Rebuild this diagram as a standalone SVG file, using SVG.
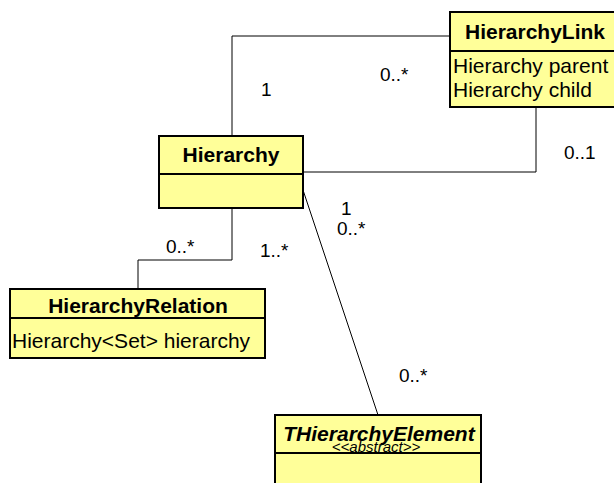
<svg xmlns="http://www.w3.org/2000/svg" width="614" height="483" viewBox="0 0 614 483">
  <style>
    .box { fill: #ffff99; stroke: #000; stroke-width: 2; }
    .sep { stroke: #000; stroke-width: 2; }
    .edge { fill: none; stroke: #000; stroke-width: 1; }
    .title { font-family: "Liberation Sans", Arial, sans-serif; font-size: 21px; font-weight: bold; text-anchor: middle; }
    .attr { font-family: "Liberation Sans", Arial, sans-serif; font-size: 21px; }
    .mult { font-family: "Liberation Sans", Arial, sans-serif; font-size: 19px; }
    .stereo { font-family: "Liberation Sans", Arial, sans-serif; font-size: 15px; font-style: italic; text-anchor: middle; }
  </style>
  <rect width="614" height="483" fill="#fff"/>

  <g id="connectors">
    <polyline class="edge" points="232,136 232,36 450,36"/>
    <polyline class="edge" points="303,172 536,172 536,107"/>
    <polyline class="edge" points="232,208 232,260 138,260 138,289"/>
    <line class="edge" x1="303" y1="190" x2="378" y2="415"/>
    <text class="mult" x="261" y="96">1</text>
    <text class="mult" x="380" y="81">0..*</text>
    <text class="mult" x="564" y="159">0..1</text>
    <text class="mult" x="341" y="215">1</text>
    <text class="mult" x="337" y="235">0..*</text>
    <text class="mult" x="166" y="253">0..*</text>
    <text class="mult" x="260" y="257">1..*</text>
    <text class="mult" x="399" y="382">0..*</text>
  </g>

  <g id="HierarchyLink">
    <rect class="box" x="450" y="12" width="172" height="95"/>
    <line class="sep" x1="450" y1="51" x2="622" y2="51"/>
    <text class="title" x="535" y="39">HierarchyLink</text>
    <text class="attr" x="453" y="73">Hierarchy parent</text>
    <text class="attr" x="453" y="97">Hierarchy child</text>
  </g>

  <g id="Hierarchy">
    <rect class="box" x="159" y="136" width="144" height="72"/>
    <line class="sep" x1="159" y1="174" x2="303" y2="174"/>
    <text class="title" x="231" y="162">Hierarchy</text>
  </g>

  <g id="HierarchyRelation">
    <rect class="box" x="10" y="289" width="255" height="69"/>
    <line class="sep" x1="10" y1="318" x2="265" y2="318"/>
    <text class="title" x="138" y="313">HierarchyRelation</text>
    <text class="attr" x="12" y="348">Hierarchy&lt;Set&gt; hierarchy</text>
  </g>

  <g id="THierarchyElement">
    <rect class="box" x="275" y="415" width="206" height="80"/>
    <line class="sep" x1="275" y1="453" x2="481" y2="453"/>
    <text class="title" x="379" y="441" font-style="italic">THierarchyElement</text>
    <text class="stereo" x="376" y="452">&lt;&lt;abstract&gt;&gt;</text>
  </g>
</svg>
